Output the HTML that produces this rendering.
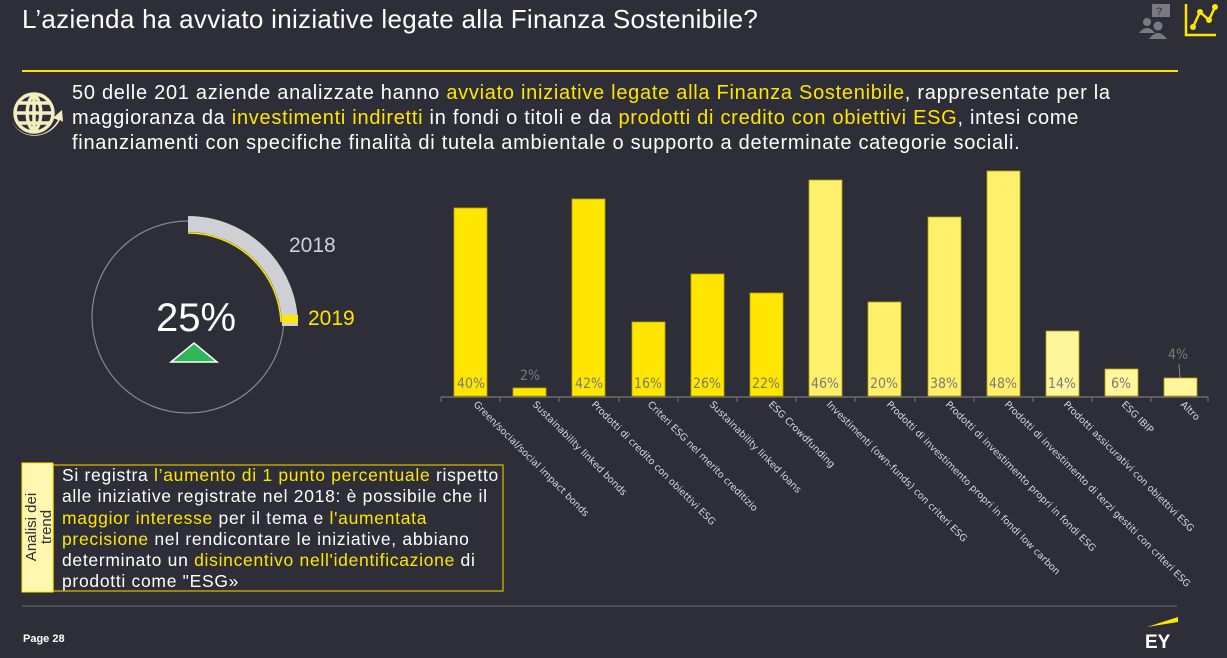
<!DOCTYPE html>
<html><head><meta charset="utf-8"><style>
body{margin:0;width:1227px;height:658px;background:#2e2e38;overflow:hidden;font-family:"Liberation Sans",sans-serif;position:relative;color:#fff}
.a{position:absolute;white-space:nowrap}
.y{color:#ffe600}
</style></head><body>
<div class="a" style="left:22px;top:4px;font-size:26px;letter-spacing:0.3px;color:#fff">L’azienda ha avviato iniziative legate alla Finanza Sostenibile?</div>
<div class="a" style="left:22px;top:70px;width:1156px;height:2px;background:#ffe600"></div>
<div class="a" style="left:72px;top:81px;font-size:20px;letter-spacing:0.72px;line-height:25px;color:#fff">50 delle 201 aziende analizzate hanno <span class="y">avviato iniziative legate alla Finanza Sostenibile</span>, rappresentate per la<br>maggioranza da <span class="y">investimenti indiretti</span> in fondi o titoli e da <span class="y">prodotti di credito con obiettivi ESG</span>, intesi come<br>finanziamenti con specifiche finalità di tutela ambientale o supporto a determinate categorie sociali.</div>
<svg class="a" style="left:0;top:0" width="1227" height="658">
<g fill="none" stroke="#f3eec0" stroke-width="3.5">
<circle cx="34" cy="113" r="19"/><path d="M15 113h38M34 94v38M19 103h30M19 123h30M34 94c-9 9-9 29 0 38M34 94c9 9 9 29 0 38"/>
</g>
<path d="M12 120c6 18 34 22 46 0l-5-2 9-8 1 12-3-2c-12 22-42 20-48 0z" fill="#f3eec0"/>
<rect x="1152" y="4" width="18" height="13" fill="#7a7a80"/><text x="1156" y="15" font-size="11" fill="#2e2e38">?</text>
<circle cx="1147" cy="22" r="4" fill="#7a7a80"/><path d="M1139 33q8-10 16 0z" fill="#7a7a80"/>
<circle cx="1158" cy="26" r="4.5" fill="#7a7a80"/><path d="M1149 39q9-12 18 0z" fill="#7a7a80"/>
<path d="M1186 4v31h30" stroke="#ffe600" stroke-width="2.5" fill="none"/>
<path d="M1193 27l7-15 9 8 6-13" stroke="#ffe600" stroke-width="2.5" fill="none"/>
<circle cx="1193" cy="27" r="3" fill="#ffe600"/><circle cx="1200" cy="12" r="3" fill="#ffe600"/><circle cx="1209" cy="20" r="3" fill="#ffe600"/><circle cx="1215" cy="7" r="3" fill="#ffe600"/>
<circle cx="188" cy="317" r="96" fill="none" stroke="#8a8a90" stroke-width="1.2"/>
<path d="M188 224 A102 102 0 0 1 290 326" fill="none" stroke="#cfcfd6" stroke-width="16" transform="translate(0,0) scale(1,1)"/>
<path d="M188 233 A93 93 0 0 1 281 322" fill="none" stroke="#ffe600" stroke-width="1.5"/>
<rect x="282" y="315" width="16" height="8" fill="#ffe600"/>
<text x="289" y="252" font-size="21" fill="#d0d0d6">2018</text>
<text x="308" y="325" font-size="21" fill="#ffe600">2019</text>
<text x="196" y="331" font-size="40" fill="#fff" text-anchor="middle">25%</text>
<path d="M171 362 L194 343 L217 362 Z" fill="#2db757" stroke="#fff" stroke-width="1.5"/>
<line x1="441" y1="397" x2="1208" y2="397" stroke="#777" stroke-width="1.2"/>
<g stroke="#777" stroke-width="1">
<line x1="441" y1="397" x2="441" y2="402"/><line x1="500" y1="397" x2="500" y2="402"/><line x1="559" y1="397" x2="559" y2="402"/><line x1="619" y1="397" x2="619" y2="402"/><line x1="678" y1="397" x2="678" y2="402"/><line x1="737" y1="397" x2="737" y2="402"/><line x1="796" y1="397" x2="796" y2="402"/><line x1="855" y1="397" x2="855" y2="402"/><line x1="915" y1="397" x2="915" y2="402"/><line x1="974" y1="397" x2="974" y2="402"/><line x1="1033" y1="397" x2="1033" y2="402"/><line x1="1092" y1="397" x2="1092" y2="402"/><line x1="1151" y1="397" x2="1151" y2="402"/><line x1="1208" y1="397" x2="1208" y2="402"/>
</g>
<g stroke="#b8a200" stroke-width="0.8">
<rect x="454" y="208" width="33" height="188" fill="#ffe600"/>
<rect x="513" y="388" width="33" height="8" fill="#ffe600"/>
<rect x="572" y="199" width="33" height="197" fill="#ffe600"/>
<rect x="632" y="322" width="33" height="74" fill="#ffe600"/>
<rect x="691" y="274" width="33" height="122" fill="#ffe600"/>
<rect x="750" y="293" width="33" height="103" fill="#ffe600"/>
<rect x="809" y="180" width="33" height="216" fill="#fff06b"/>
<rect x="868" y="302" width="33" height="94" fill="#fff06b"/>
<rect x="928" y="217" width="33" height="179" fill="#fff06b"/>
<rect x="987" y="171" width="33" height="225" fill="#fff06b"/>
<rect x="1046" y="331" width="33" height="65" fill="#fff59a"/>
<rect x="1105" y="369" width="33" height="27" fill="#fff59a"/>
<rect x="1164" y="378" width="33" height="18" fill="#fff59a"/>
</g>
<line x1="1179" y1="364" x2="1180" y2="378" stroke="#888"/>
<g font-size="14" fill="#7a7a7a" text-anchor="middle" font-family="DejaVu Sans Condensed, DejaVu Sans, sans-serif">
<text x="471" y="388">40%</text><text x="530" y="380">2%</text><text x="589" y="388">42%</text><text x="648" y="388">16%</text><text x="707" y="388">26%</text><text x="766" y="388">22%</text><text x="825" y="388">46%</text><text x="884" y="388">20%</text><text x="944" y="388">38%</text><text x="1003" y="388">48%</text><text x="1062" y="388">14%</text><text x="1121" y="388">6%</text><text x="1178" y="359">4%</text>
</g>
<g font-size="9.6" fill="#d8d8dc" font-family="DejaVu Sans, sans-serif">
<text transform="translate(473,405) rotate(45)">Green/social/social impact bonds</text>
<text transform="translate(532,405) rotate(45)">Sustainability linked bonds</text>
<text transform="translate(591,405) rotate(45)">Prodotti di credito con obiettivi ESG</text>
<text transform="translate(647,405) rotate(45)">Criteri ESG nel merito creditizio</text>
<text transform="translate(709,405) rotate(45)">Sustainability linked loans</text>
<text transform="translate(768,405) rotate(45)">ESG Crowdfunding</text>
<text transform="translate(826,405) rotate(45)">Investimenti (own-funds) con criteri ESG</text>
<text transform="translate(886,405) rotate(45)">Prodotti di investimento propri in fondi low carbon</text>
<text transform="translate(945,405) rotate(45)">Prodotti di investimento propri in fondi ESG</text>
<text transform="translate(1004,405) rotate(45)">Prodotti di investimento di terzi gestiti con criteri ESG</text>
<text transform="translate(1063,405) rotate(45)">Prodotti assicurativi con obiettivi ESG</text>
<text transform="translate(1121,405) rotate(45)">ESG IBIP</text>
<text transform="translate(1180,405) rotate(45)">Altro</text>
</g>
<rect x="53" y="465" width="450" height="126" fill="none" stroke="#b8a200" stroke-width="1.5"/>
<rect x="22" y="463" width="31" height="129" fill="#fff7b0" stroke="#ffe600" stroke-width="1"/>
<text transform="translate(36,527) rotate(-90)" font-size="15" fill="#2e2e38" text-anchor="middle">Analisi dei</text>
<text transform="translate(51,527) rotate(-90)" font-size="15" fill="#2e2e38" text-anchor="middle">trend</text>
<line x1="22" y1="606" x2="1177" y2="606" stroke="#5a5a62" stroke-width="1.5"/>
<text x="23" y="642" font-size="11" font-weight="bold" fill="#fff">Page 28</text>
<path d="M1147 627 L1178 617 L1178 622 Z" fill="#ffe600"/>
<text x="1145" y="648" font-size="19" font-weight="bold" fill="#fff">EY</text>
</svg>
<div class="a" style="left:62px;top:465px;font-size:17.5px;letter-spacing:0.7px;line-height:21.3px;color:#fff">Si registra <span class="y">l’aumento di 1 punto percentuale</span> rispetto<br>alle iniziative registrate nel 2018: è possibile che il<br><span class="y">maggior interesse</span> per il tema e <span class="y">l'aumentata</span><br><span class="y">precisione</span> nel rendicontare le iniziative, abbiano<br>determinato un <span class="y">disincentivo nell'identificazione</span> di<br>prodotti come "ESG»</div>
</body></html>
